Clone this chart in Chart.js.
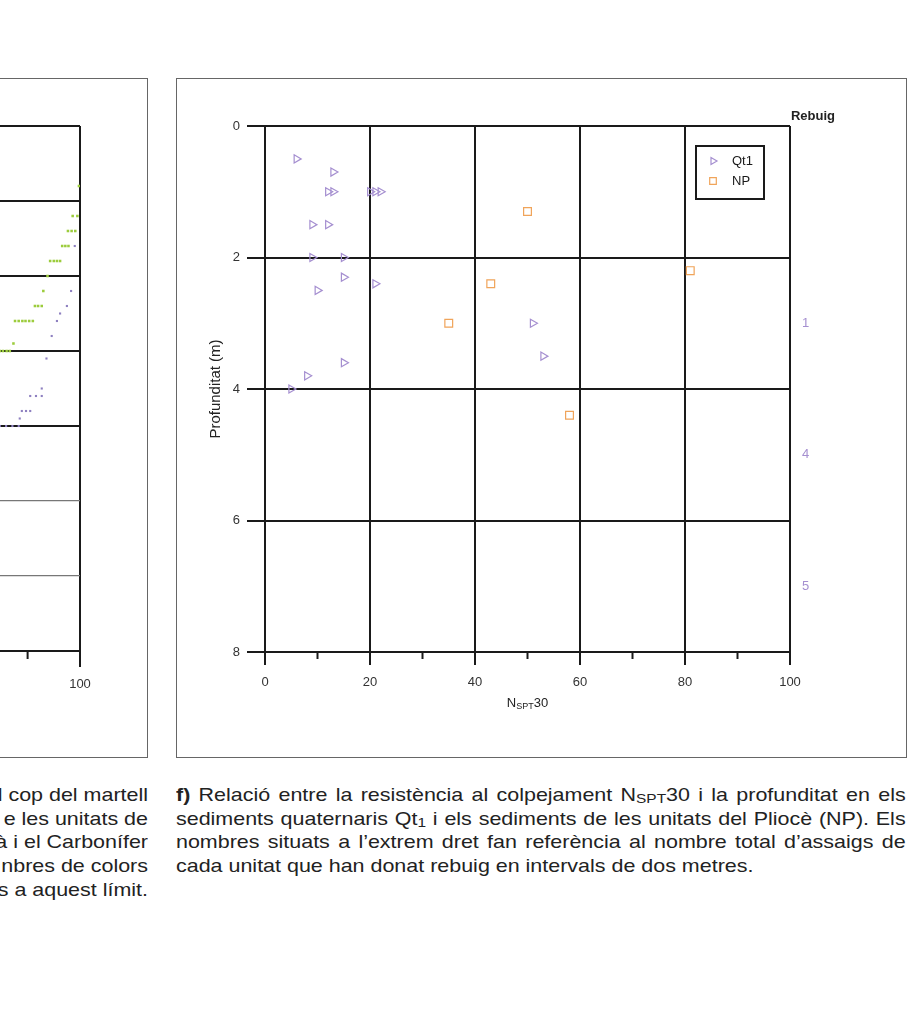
<!DOCTYPE html>
<html>
<head>
<meta charset="utf-8">
<script src="https://cdn.jsdelivr.net/npm/chart.js@4.4.0/dist/chart.umd.min.js"></script>
<style>
  html, body { margin:0; padding:0; background:#fff; }
  body { width:922px; height:1020px; position:relative; overflow:hidden; font-family:'Liberation Sans', Arial, sans-serif; }
  .frame { position:absolute; border:1.5px solid #666; box-sizing:border-box; }
  #leftFrame { left:-20px; top:78px; width:168px; height:680px; }
  #rightFrame { left:176px; top:78px; width:731px; height:680px; }
  #leftWrap { position:absolute; left:-480px; top:79px; width:620px; height:677px; }
  #rightWrap { position:absolute; left:177px; top:79px; width:728px; height:677px; }
  .cap { position:absolute; font-size:18.5px; line-height:23.7px; color:#222; }
  #capRight { left:176px; top:783px; width:629px; transform:scaleX(1.16); transform-origin:0 0; }
  #capRight .j { text-align:justify; text-align-last:justify; white-space:nowrap; }
  #capLeft { left:-31px; top:783px; width:179px; transform:scaleX(1.16); transform-origin:100% 0; }
  #capLeft div { display:flex; justify-content:flex-end; white-space:nowrap; }
  .sm { font-size:0.72em; position:relative; top:0.15em; line-height:0; }
</style>
</head>
<body>
<div class="frame" id="leftFrame"></div>
<div class="frame" id="rightFrame"></div>
<div id="leftWrap"><canvas id="chartLeft"></canvas></div>
<div id="rightWrap"><canvas id="chartF"></canvas></div>

<div class="cap" id="capLeft">
  <div>l cop del martell</div>
  <div>e les unitats de</div>
  <div>à i el Carbonífer</div>
  <div>nbres de colors</div>
  <div>rs a aquest límit.</div>
</div>
<div class="cap" id="capRight">
  <div class="j"><b>f)</b> Relació entre la resistència al colpejament N<span class="sm">SPT</span>30 i la profunditat en els</div>
  <div class="j">sediments quaternaris Qt<span class="sm">1</span> i els sediments de les unitats del Pliocè (NP). Els</div>
  <div class="j">nombres situats a l’extrem dret fan referència al nombre total d’assaigs de</div>
  <div>cada unitat que han donat rebuig en intervals de dos metres.</div>
</div>

<script>
// chart f) : NSPT30 vs profunditat
const qt1N     = [6, 13, 12, 13, 20, 21, 22, 9, 12, 9, 15, 15, 21, 10, 51, 53, 15, 8, 5];
const qt1Depth = [0.5, 0.7, 1.0, 1.0, 1.0, 1.0, 1.0, 1.5, 1.5, 2.0, 2.0, 2.3, 2.4, 2.5, 3.0, 3.5, 3.6, 3.8, 4.0];
const npN      = [50, 81, 43, 35, 58];
const npDepth  = [1.3, 2.2, 2.4, 3.0, 4.4];
const rebuigDepth = [3, 5, 7];
const rebuigCount = ['1', '4', '5'];

// partial chart on the left (cut by the page)
const leftGreenX  = [99.8, 98.6, 99.5, 97.7, 98.4, 99.1, 96.6, 97.2, 97.8, 94.3, 95.0, 95.6, 96.2, 93.8, 93.0, 91.4, 92.0, 92.7, 87.6, 88.3, 89.0, 89.6, 90.3, 91.0, 87.3, 84.7, 85.3, 86.0, 86.6];
const leftGreenY  = [0.8, 1.2, 1.2, 1.4, 1.4, 1.4, 1.6, 1.6, 1.6, 1.8, 1.8, 1.8, 1.8, 2.0, 2.2, 2.4, 2.4, 2.4, 2.6, 2.6, 2.6, 2.6, 2.6, 2.6, 2.9, 3.0, 3.0, 3.0, 3.0];
const leftPurpleX = [99.0, 98.3, 97.5, 96.2, 95.6, 94.6, 93.6, 92.7, 90.5, 91.6, 92.7, 88.9, 89.7, 90.5, 88.5, 84.7, 85.9, 87.1, 88.3];
const leftPurpleY = [1.6, 2.2, 2.4, 2.5, 2.6, 2.8, 3.1, 3.5, 3.6, 3.6, 3.6, 3.8, 3.8, 3.8, 3.9, 4.0, 4.0, 4.0, 4.0];

const dark = '#1a1a1a';
Chart.defaults.font.family = "'Liberation Sans', Arial, sans-serif";
Chart.defaults.animation = false;

const pts = (xs, ys) => xs.map((x, i) => ({x: x, y: ys[i]}));

const minorTicks = {
  id: 'minorTicks',
  afterDraw(chart, args, opts) {
    const sx = chart.scales.x, ctx = chart.ctx;
    ctx.save();
    ctx.strokeStyle = dark;
    ctx.lineWidth = 2;
    sx.ticks.forEach(t => {
      if (t.value % 20 === 0) return;
      const px = sx.getPixelForValue(t.value);
      ctx.beginPath();
      ctx.moveTo(px, sx.top);
      ctx.lineTo(px, sx.top + opts.length);
      ctx.stroke();
    });
    ctx.restore();
  }
};

const boxLegend = {
  id: 'boxLegend',
  afterDraw(chart) {
    const ctx = chart.ctx, a = chart.chartArea;
    const w = 68, h = 53, left = a.right - 94, top = a.top + 20;
    ctx.save();
    ctx.lineWidth = 2;
    ctx.strokeStyle = dark;
    ctx.strokeRect(left, top, w, h);
    ctx.font = "13px 'Liberation Sans', Arial, sans-serif";
    ctx.textBaseline = 'middle';
    chart.data.datasets.forEach((ds, i) => {
      const y = top + 15 + i * 20;
      ctx.strokeStyle = ds.borderColor;
      ctx.fillStyle = 'rgba(0,0,0,0)';
      ctx.lineWidth = ds.borderWidth;
      Chart.helpers.drawPoint(ctx, {pointStyle: ds.pointStyle, rotation: ds.rotation || 0, radius: ds.pointRadius * 0.85, borderWidth: ds.borderWidth}, left + 17, y);
      ctx.fillStyle = dark;
      ctx.fillText(ds.label, left + 36, y);
    });
    ctx.restore();
  }
};

const extraText = {
  id: 'extraText',
  afterDraw(chart) {
    const ctx = chart.ctx, a = chart.chartArea;
    ctx.save();
    ctx.fillStyle = '#222';
    ctx.textBaseline = 'middle';
    ctx.textAlign = 'center';
    ctx.font = "bold 13px 'Liberation Sans', Arial, sans-serif";
    ctx.fillText('Rebuig', a.right + 23, a.top - 10);
    // x axis title N_SPT 30
    const big = "13px 'Liberation Sans', Arial, sans-serif", small = "9px 'Liberation Sans', Arial, sans-serif";
    ctx.textAlign = 'left';
    ctx.font = big; const wN = ctx.measureText('N').width, w30 = ctx.measureText('30').width;
    ctx.font = small; const wS = ctx.measureText('SPT').width;
    let x = (a.left + a.right) / 2 - (wN + wS + w30) / 2;
    const y = a.bottom + 51;
    ctx.font = big; ctx.fillText('N', x, y); x += wN;
    ctx.font = small; ctx.fillText('SPT', x, y + 4); x += wS;
    ctx.font = big; ctx.fillText('30', x, y);
    ctx.restore();
  }
};

new Chart(document.getElementById('chartF'), {
  type: 'scatter',
  data: {
    datasets: [{
      label: 'Qt1',
      data: pts(qt1N, qt1Depth),
      pointStyle: 'triangle',
      rotation: 90,
      pointRadius: 4.7,
      borderColor: '#a58fd0',
      backgroundColor: 'rgba(0,0,0,0)',
      borderWidth: 1.2
    }, {
      label: 'NP',
      data: pts(npN, npDepth),
      pointStyle: 'rect',
      pointRadius: 5.5,
      borderColor: '#f0a45a',
      backgroundColor: 'rgba(0,0,0,0)',
      borderWidth: 1.2
    }]
  },
  options: {
    responsive: true,
    maintainAspectRatio: false,
    layout: { padding: { top: 47, left: 0, right: 0, bottom: 0 } },
    plugins: { legend: { display: false }, tooltip: { enabled: false }, minorTicks: { length: 7 } },
    scales: {
      x: {
        type: 'linear', min: 0, max: 100,
        ticks: { stepSize: 10, autoSkip: false, maxRotation: 0, color: '#333', font: { size: 13 }, padding: 10,
                 callback: v => v % 20 === 0 ? v : '' },
        grid: { lineWidth: 2, tickLength: 13,
                color: c => c.tick && c.tick.value % 20 === 0 ? dark : 'rgba(0,0,0,0)',
                tickColor: c => c.tick && c.tick.value % 20 === 0 ? dark : 'rgba(0,0,0,0)' },
        border: { color: dark, width: 2 },
        afterFit: s => { s.height = 104; }
      },
      y: {
        min: 0, max: 8, reverse: true,
        ticks: { stepSize: 2, color: '#333', font: { size: 13 }, padding: 7 },
        grid: { color: dark, lineWidth: 2, tickLength: 18 },
        border: { color: dark, width: 2 },
        title: { display: true, text: 'Profunditat (m)', color: '#222', font: { size: 15 }, padding: { top: 30, bottom: 0 } },
        afterFit: s => { s.width = 88; }
      },
      y2: {
        position: 'right', min: 0, max: 8, reverse: true,
        afterBuildTicks: s => { s.ticks = rebuigDepth.map(v => ({ value: v })); },
        ticks: { color: '#a58fd0', font: { size: 13 }, padding: 12, callback: (v, i) => rebuigCount[i] },
        grid: { display: false, drawTicks: false },
        border: { display: false },
        afterFit: s => { s.width = 115; }
      }
    }
  },
  plugins: [minorTicks, boxLegend, extraText]
});

new Chart(document.getElementById('chartLeft'), {
  type: 'scatter',
  data: {
    datasets: [{
      data: pts(leftGreenX, leftGreenY),
      pointStyle: 'rect', pointRadius: 1.8,
      backgroundColor: '#9ccc3c', borderColor: '#9ccc3c', borderWidth: 0
    }, {
      data: pts(leftPurpleX, leftPurpleY),
      pointStyle: 'rect', pointRadius: 1.5,
      backgroundColor: '#8e80c0', borderColor: '#8e80c0', borderWidth: 0
    }]
  },
  options: {
    responsive: true,
    maintainAspectRatio: false,
    layout: { padding: { top: 47, left: 0, right: 60, bottom: 0 } },
    plugins: { legend: { display: false }, tooltip: { enabled: false }, minorTicks: { length: 8 } },
    scales: {
      x: {
        type: 'linear', min: 0, max: 100,
        ticks: { stepSize: 10, autoSkip: false, maxRotation: 0, color: '#333', font: { size: 13 }, padding: 10,
                 callback: v => v % 20 === 0 ? v : '' },
        grid: { lineWidth: 2, tickLength: 16,
                color: c => c.tick && c.tick.value === 100 ? dark : 'rgba(0,0,0,0)',
                tickColor: c => c.tick && c.tick.value % 20 === 0 ? dark : 'rgba(0,0,0,0)' },
        border: { color: dark, width: 2 },
        afterFit: s => { s.height = 105; }
      },
      y: {
        min: 0, max: 7, reverse: true,
        ticks: { stepSize: 1, display: false },
        grid: { drawTicks: false,
                color: c => c.tick && (c.tick.value === 5 || c.tick.value === 6) ? '#777' : dark,
                lineWidth: c => c.tick && (c.tick.value === 5 || c.tick.value === 6) ? 1.2 : 2 },
        border: { color: dark, width: 2 },
        afterFit: s => { s.width = 36; }
      }
    }
  },
  plugins: [minorTicks]
});
</script>
</body>
</html>
